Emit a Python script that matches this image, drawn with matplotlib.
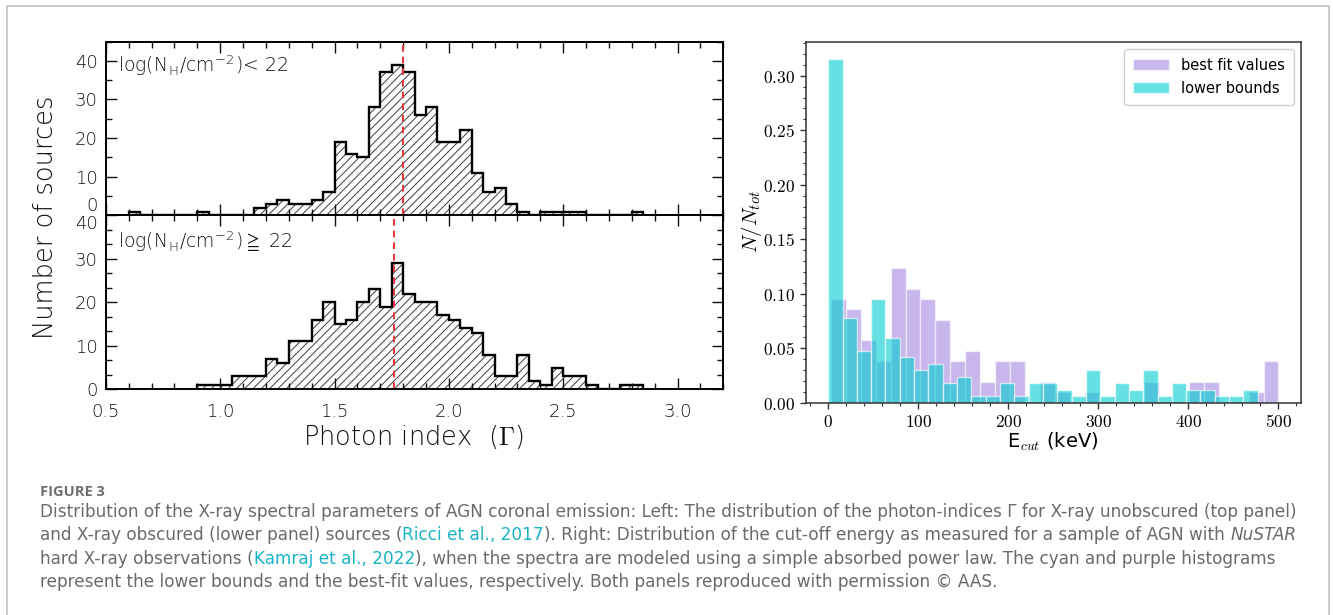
import numpy as np
import matplotlib
matplotlib.use("Agg")
import matplotlib.pyplot as plt
from matplotlib.ticker import MultipleLocator, FuncFormatter
from matplotlib.lines import Line2D

# ---------------------------------------------------------------- data
# Photon-index histograms, counts per 0.05-wide bin
gamma_bin_width = 0.05
unobscured_start = 0.60
unobscured_counts = [1, 0, 0, 0, 0, 0, 1, 0, 0, 0, 0, 2, 3, 4, 3, 3, 4, 6,
                     19, 16, 15, 28, 37, 39, 37, 26, 28, 19, 19, 22, 11, 6,
                     7, 3, 1, 0, 1, 1, 1, 1, 0, 0, 0, 0, 1]
obscured_start = 0.90
obscured_counts = [1, 1, 1, 3, 3, 3, 7, 6, 11, 11, 16, 20, 15, 16, 20, 23,
                   19, 29, 22, 20, 20, 17, 16, 14, 13, 8, 3, 3, 8, 2, 1, 5,
                   3, 3, 1, 0, 0, 1, 1]
unobscured_mean = 1.80
obscured_mean = 1.76
unobscured_label = r"log(N$_\mathregular{H}$/cm$^\mathregular{-2}$)< 22"
obscured_label = r"log(N$_\mathregular{H}$/cm$^\mathregular{-2}$)$\geqq$ 22"

# Cut-off energy histograms (30 bins each), counts normalised by their totals
bestfit_range = (3.0, 500.0)
bestfit_counts = [10, 9, 6, 4, 13, 11, 10, 8, 4, 5, 2, 4, 4, 0, 2, 1, 0, 1,
                  0, 0, 0, 2, 0, 0, 2, 2, 0, 0, 1, 4]
lower_range = (0.0, 477.0)
lower_counts = [53, 13, 8, 16, 10, 7, 5, 6, 3, 4, 1, 1, 3, 1, 3, 3, 2, 1, 5,
                1, 3, 2, 5, 1, 3, 2, 2, 1, 1, 2]
legend_labels = ["best fit values", "lower bounds"]

caption_head = "FIGURE 3"
caption_lines = [
    [("Distribution of the X-ray spectral parameters of AGN coronal emission: "
      "Left: The distribution of the photon-indices Γ for X-ray unobscured "
      "(top panel)", "plain")],
    [("and X-ray obscured (lower panel) sources (", "plain"),
     ("Ricci et al., 2017", "link"),
     ("). Right: Distribution of the cut-off energy as measured for a sample "
      "of AGN with", "plain"),
     (" NuSTAR", "italic")],
    [("hard X-ray observations (", "plain"),
     ("Kamraj et al., 2022", "link"),
     ("), when the spectra are modeled using a simple absorbed power law. "
      "The cyan and purple histograms", "plain")],
    [("represent the lower bounds and the best-fit values, respectively. "
      "Both panels reproduced with permission © AAS.", "plain")],
]

# ---------------------------------------------------------------- style
plt.rcParams["font.family"] = ["DejaVu Sans"]
plt.rcParams["mathtext.fontset"] = "cm"
plt.rcParams["hatch.linewidth"] = 0.7

W, H = 1333, 615
fig = plt.figure(figsize=(W / 100, H / 100), dpi=100)
fig.patch.set_facecolor("white")


def px_rect(left, top, right, bottom):
    return [left / W, 1 - bottom / H, (right - left) / W, (bottom - top) / H]


ink = "#111111"
thin = "light"

# ---------------------------------------------------------------- left panels
ax_top = fig.add_axes(px_rect(105.8, 41.5, 723.3, 215.4))
ax_bot = fig.add_axes(px_rect(105.8, 215.4, 723.3, 389.3))


def photon_panel(ax, start, counts, mean, ymax, minor_step, label, label_y):
    counts = np.asarray(counts, dtype=float)
    edges = start + gamma_bin_width * np.arange(len(counts) + 1)
    ax.stairs(counts, edges, fill=True, facecolor="none", edgecolor="#3c3c3c",
              hatch="////", linewidth=0)
    ax.stairs(counts, edges, baseline=0, color="black", linewidth=1.7)
    ax.axvline(mean, color="#e2393f", linestyle=(0, (3.2, 2.4)), linewidth=1.5)
    ax.set_xlim(0.5, 3.2)
    ax.set_ylim(0, ymax)
    ax.xaxis.set_major_locator(MultipleLocator(0.5))
    ax.xaxis.set_minor_locator(MultipleLocator(0.1))
    ax.yaxis.set_major_locator(MultipleLocator(10))
    ax.yaxis.set_minor_locator(MultipleLocator(minor_step))
    ax.tick_params(which="both", direction="in", top=True, right=True,
                   colors=ink, labelsize=13)
    ax.tick_params(which="major", length=8, width=1.0)
    ax.tick_params(which="minor", length=4.5, width=1.0)
    ax.tick_params(axis="y", pad=6)
    ax.tick_params(axis="x", pad=10)
    for s in ax.spines.values():
        s.set_linewidth(1.4)
        s.set_color("black")
    ax.text(0.553, label_y, label, fontsize=13.5, color=ink, va="center",
            ha="left", fontweight=thin)


photon_panel(ax_top, unobscured_start, unobscured_counts, unobscured_mean,
             45, 5, unobscured_label, 38.9)
photon_panel(ax_bot, obscured_start, obscured_counts, obscured_mean,
             40, 10 / 3, obscured_label, 34.0)
ax_top.tick_params(labelbottom=False)
ax_bot.set_xticks([0.5, 1.0, 1.5, 2.0, 2.5, 3.0])
ax_bot.xaxis.set_major_formatter(FuncFormatter(lambda v, p: f"{v:.1f}"))
ax_top.set_yticks([0, 10, 20, 30, 40])
ax_bot.set_yticks([0, 10, 20, 30, 40])

for ax in (ax_top, ax_bot):
    for lbl in ax.get_xticklabels() + ax.get_yticklabels():
        lbl.set_fontweight(thin)
# the shared zero/forty labels sit just above and below the panel boundary
ax_top.get_yticklabels()[0].set_va("bottom")
ax_bot.get_yticklabels()[-1].set_va("top")

fig.text(46 / W, 1 - 217 / H, "Number of sources", rotation=90, ha="center",
         va="center", fontsize=18.5, color=ink, fontweight=thin)
fig.text(413 / W, 1 - 437 / H, r"Photon index  ($\Gamma$)", ha="center",
         va="center", fontsize=18.5, color=ink, fontweight=thin)

# ---------------------------------------------------------------- right panel
ax_e = fig.add_axes(px_rect(805.7, 41.7, 1301, 402.7))

best_edges = np.linspace(*bestfit_range, len(bestfit_counts) + 1)
best_frac = np.asarray(bestfit_counts) / np.sum(bestfit_counts)
low_edges = np.linspace(*lower_range, len(lower_counts) + 1)
low_frac = np.asarray(lower_counts) / np.sum(lower_counts)

ax_e.bar(best_edges[:-1], best_frac, width=np.diff(best_edges), align="edge",
         color="mediumpurple", alpha=0.5, edgecolor="white", linewidth=1.0,
         label=legend_labels[0])
ax_e.bar(low_edges[:-1], low_frac, width=np.diff(low_edges), align="edge",
         color="darkturquoise", alpha=0.6, edgecolor="white", linewidth=1.0,
         label=legend_labels[1])

ax_e.set_xlim(-25, 525)
ax_e.set_ylim(0, 1.05 * max(best_frac.max(), low_frac.max()))
ax_e.xaxis.set_major_locator(MultipleLocator(100))
ax_e.xaxis.set_minor_locator(MultipleLocator(20))
ax_e.yaxis.set_major_locator(MultipleLocator(0.05))
ax_e.yaxis.set_minor_locator(MultipleLocator(0.01))
ax_e.xaxis.set_major_formatter(FuncFormatter(lambda v, p: f"${v:.0f}$"))
ax_e.yaxis.set_major_formatter(FuncFormatter(lambda v, p: f"${v:.2f}$"))
ax_e.tick_params(which="both", direction="out", colors="#333333",
                 labelcolor="black", labelsize=12.5)
ax_e.tick_params(which="major", length=4, width=1.0)
ax_e.tick_params(which="minor", length=2, width=0.8)
for s in ax_e.spines.values():
    s.set_linewidth(1.1)
    s.set_color("#333333")

ax_e.legend(loc="upper right", fontsize=10.5, handlelength=2.5,
            handleheight=0.8, borderpad=0.6, labelspacing=0.55,
            framealpha=1.0, edgecolor="#d0d0d0")

fig.text(752 / W, 1 - 221.5 / H, r"$N/N_{tot}$", rotation=90, ha="center",
         va="center", fontsize=15)
fig.text(1053 / W, 1 - 442 / H, r"E$_{cut}$ (keV)", ha="center",
         va="center", fontsize=14)

# ---------------------------------------------------------------- frame
frame_color = "#c6c6c6"
fig.add_artist(Line2D(np.array([7.3, 7.3, 1329.3, 1329.3]) / W,
                      1 - np.array([H + 5, 6, 6, H + 5]) / H,
                      transform=fig.transFigure, color=frame_color,
                      linewidth=1.3))

# ---------------------------------------------------------------- caption
cap_font = dict(family=["DejaVu Sans"], fontsize=12.2)
cap_styles = {
    "plain": dict(color="#6a6a6a"),
    "link": dict(color="#1ab3c6"),
    "italic": dict(color="#6a6a6a", style="italic"),
}
fig.text(40 / W, 1 - 496.5 / H, caption_head, ha="left", va="baseline",
         color="#707070", fontweight="bold", family=["Open Sans", "DejaVu Sans"],
         fontsize=10.5)

renderer = fig.canvas.get_renderer()


def measure(s, style):
    t = fig.text(0, 0, s, **cap_font, **cap_styles[style])
    w = t.get_window_extent(renderer).width
    t.remove()
    return w


space_w = measure("a a", "plain") - measure("aa", "plain")
baseline0, line_gap = 517.0, 23.4
for i, runs in enumerate(caption_lines):
    x = 40.0
    y = baseline0 + i * line_gap
    for s, style in runs:
        if s.startswith(" "):
            x += space_w
            s = s.lstrip(" ")
        t = fig.text(x / W, 1 - y / H, s, ha="left", va="baseline",
                     **cap_font, **cap_styles[style])
        x += t.get_window_extent(renderer).width

fig.savefig("out.png", dpi=100, facecolor="white")
